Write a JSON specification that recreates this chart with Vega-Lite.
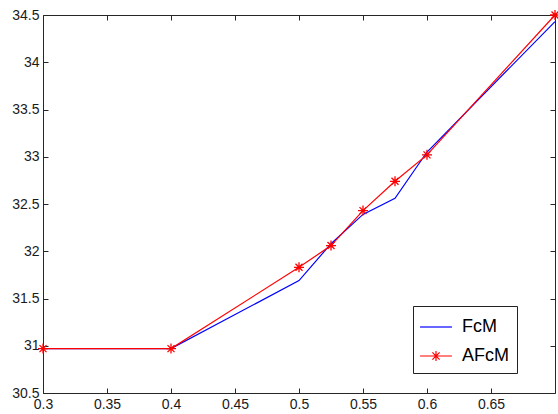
{
  "$schema": "https://vega.github.io/schema/vega-lite/v6.json",
  "autosize": {"type": "none"},
  "padding": {"left": 43, "top": 15, "right": 3, "bottom": 21},
  "width": 512,
  "height": 378,
  "background": "white",
  "config": {
    "view": {"stroke": null},
    "axis": {
      "grid": false,
      "title": null,
      "domainColor": "#262626",
      "domainWidth": 1,
      "tickColor": "#262626",
      "tickWidth": 1,
      "tickSize": -5,
      "labelFont": "Liberation Sans",
      "labelFontSize": 14,
      "labelColor": "#1a1a1a",
      "labelPadding": 9,
      "labelOverlap": false,
      "labelFlush": false
    }
  },
  "data": {
    "values": [
      {"series": "FcM", "x": 0.3, "y": 30.97},
      {"series": "FcM", "x": 0.4, "y": 30.97},
      {"series": "FcM", "x": 0.5, "y": 31.69},
      {"series": "FcM", "x": 0.525, "y": 32.08},
      {"series": "FcM", "x": 0.55, "y": 32.39},
      {"series": "FcM", "x": 0.575, "y": 32.56},
      {"series": "FcM", "x": 0.6, "y": 33.05},
      {"series": "FcM", "x": 0.7, "y": 34.43},
      {"series": "AFcM", "x": 0.3, "y": 30.97},
      {"series": "AFcM", "x": 0.4, "y": 30.97},
      {"series": "AFcM", "x": 0.5, "y": 31.83},
      {"series": "AFcM", "x": 0.525, "y": 32.06},
      {"series": "AFcM", "x": 0.55, "y": 32.43},
      {"series": "AFcM", "x": 0.575, "y": 32.74},
      {"series": "AFcM", "x": 0.6, "y": 33.02},
      {"series": "AFcM", "x": 0.7, "y": 34.5}
    ]
  },
  "layer": [
    {
      "mark": {"type": "line", "strokeWidth": 1.2},
      "encoding": {
        "x": {
          "field": "x", "type": "quantitative",
          "scale": {"domain": [0.3, 0.7], "nice": false, "zero": false},
          "axis": {"orient": "bottom", "values": [0.3, 0.35, 0.4, 0.45, 0.5, 0.55, 0.6, 0.65], "format": ".2~f"}
        },
        "y": {
          "field": "y", "type": "quantitative",
          "scale": {"domain": [30.5, 34.5], "nice": false, "zero": false},
          "axis": {"orient": "left", "values": [30.5, 31, 31.5, 32, 32.5, 33, 33.5, 34, 34.5], "format": ".1~f"}
        },
        "color": {
          "field": "series", "type": "nominal",
          "scale": {"domain": ["FcM", "AFcM"], "range": ["#0000ff", "#ff0000"]},
          "legend": {
            "orient": "none",
            "legendX": 370,
            "legendY": 291,
            "title": null,
            "symbolType": "M-1.33,0H1.33",
            "symbolSize": 576,
            "symbolStrokeWidth": 1.2,
            "symbolOffset": 2,
            "labelOffset": 13,
            "labelFont": "Liberation Sans",
            "labelFontSize": 18,
            "labelColor": "#000000",
            "labelLimit": 300,
            "strokeColor": "#222222",
            "fillColor": "white",
            "padding": 8,
            "rowPadding": 7,
            "labelExpr": "datum.label + '\u2003\u2003'",
            "encode": {
              "symbols": {
                "update": {
                  "shape": {"signal": "datum.value === 'AFcM' ? 'M-1.33,0H1.33M0,-0.42V0.42M-0.3,-0.3L0.3,0.3M-0.3,0.3L0.3,-0.3' : 'M-1.33,0H1.33'"}
                }
              }
            }
          }
        }
      }
    },
    {
      "transform": [{"filter": "datum.series === 'AFcM'"}],
      "mark": {
        "type": "point",
        "shape": "M0,-1V1M-1,0H1M-0.7,-0.7L0.7,0.7M-0.7,0.7L0.7,-0.7",
        "filled": false,
        "size": 100,
        "strokeWidth": 1.3,
        "color": "#ff0000",
        "opacity": 1
      },
      "encoding": {
        "x": {
          "field": "x", "type": "quantitative",
          "axis": {"orient": "top", "labels": false, "values": [0.3, 0.35, 0.4, 0.45, 0.5, 0.55, 0.6, 0.65]}
        },
        "y": {
          "field": "y", "type": "quantitative",
          "axis": {"orient": "right", "labels": false, "values": [30.5, 31, 31.5, 32, 32.5, 33, 33.5, 34, 34.5]}
        }
      }
    }
  ],
  "resolve": {"axis": {"x": "independent", "y": "independent"}}
}
